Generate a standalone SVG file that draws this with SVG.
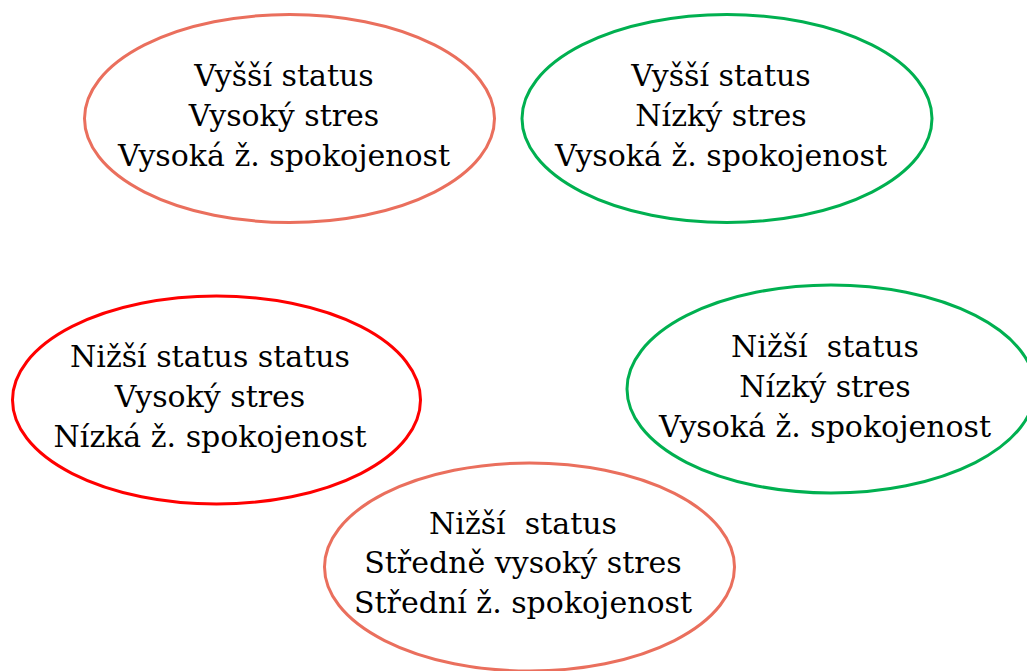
<svg xmlns="http://www.w3.org/2000/svg" width="1027" height="671" viewBox="0 0 1027 671">
<style>
.n{fill:#fff;stroke-width:3}
.s{stroke:#EA6F5D}
.g{stroke:#00B050}
.r{stroke:#FF0000}
text{font-family:"DejaVu Serif","Liberation Serif",serif;font-size:30px;fill:#000;text-anchor:middle}
</style>
<rect width="1027" height="671" fill="#fff"/>
<g id="connectors"/>
<g id="n1">
<ellipse class="n s" cx="289.5" cy="118.5" rx="205" ry="104"/>
<text x="284" y="86">Vyšší status</text>
<text x="284" y="126">Vysoký stres</text>
<text x="284" y="166">Vysoká ž. spokojenost</text>
</g>
<g id="n2">
<ellipse class="n g" cx="727" cy="118.5" rx="205" ry="104"/>
<text x="721" y="86">Vyšší status</text>
<text x="721" y="126">Nízký stres</text>
<text x="721" y="166">Vysoká ž. spokojenost</text>
</g>
<g id="n3">
<ellipse class="n r" cx="216.5" cy="400" rx="204" ry="104"/>
<text x="210" y="367">Nižší status status</text>
<text x="210" y="407">Vysoký stres</text>
<text x="210" y="447">Nízká ž. spokojenost</text>
</g>
<g id="n4">
<ellipse class="n g" cx="831" cy="389" rx="204" ry="104"/>
<text x="825" y="357" xml:space="preserve">Nižší  status</text>
<text x="825" y="397">Nízký stres</text>
<text x="825" y="437">Vysoká ž. spokojenost</text>
</g>
<g id="n5">
<ellipse class="n s" cx="529.5" cy="567" rx="205" ry="104"/>
<text x="523" y="534" xml:space="preserve">Nižší  status</text>
<text x="523" y="573">Středně vysoký stres</text>
<text x="523" y="613">Střední ž. spokojenost</text>
</g>
</svg>
